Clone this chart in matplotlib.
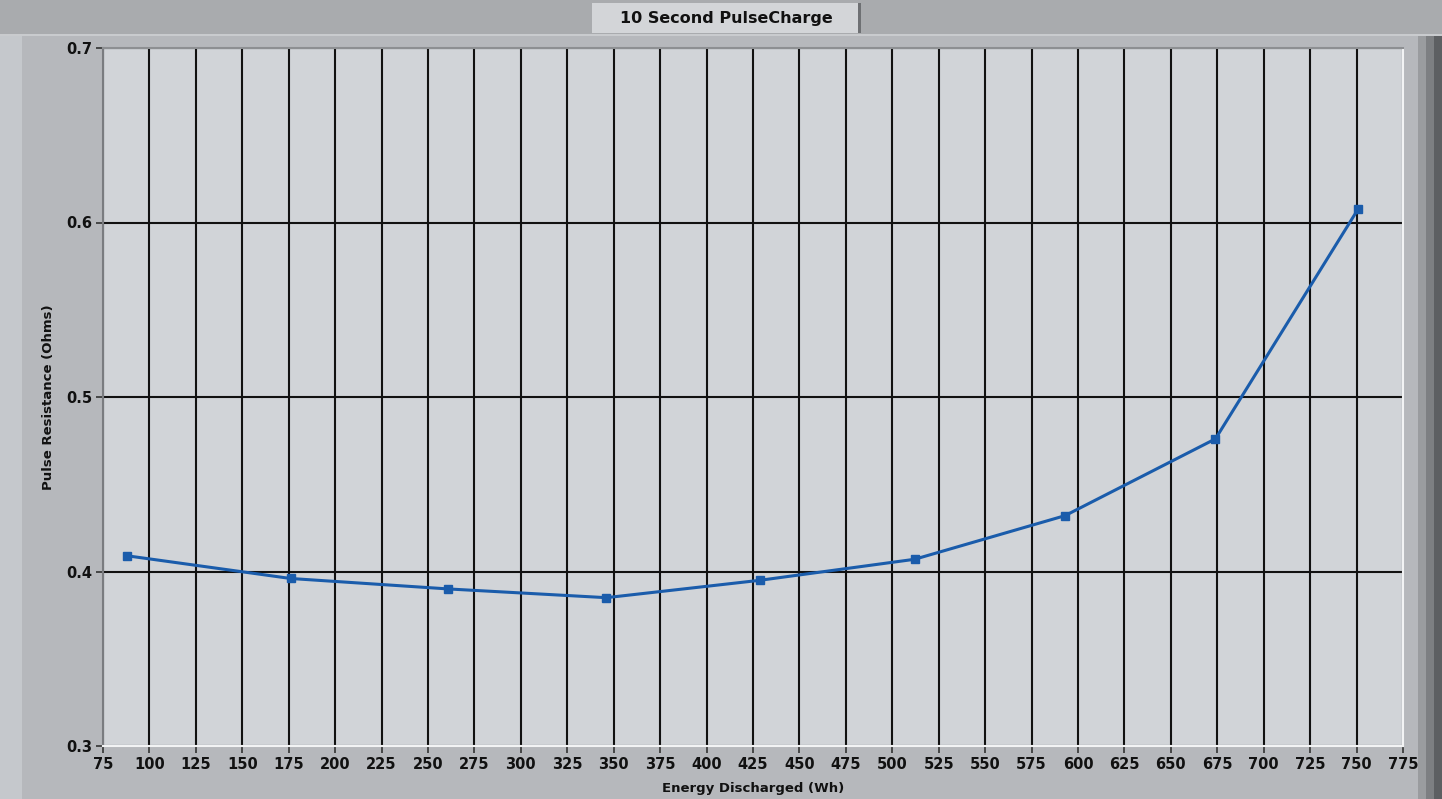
"""Recreate the '10 Second PulseCharge' LabVIEW-style resistance chart."""

import matplotlib
matplotlib.use("Agg")
import matplotlib.pyplot as plt
from matplotlib.patches import Rectangle

# Data.
energy_wh = [88, 176, 261, 346, 429, 512, 593, 674, 751]
resistance_ohm = [0.409, 0.396, 0.390, 0.385, 0.395, 0.407, 0.432, 0.476, 0.608]

x_ticks = list(range(75, 776, 25))
y_ticks = [0.3, 0.4, 0.5, 0.6, 0.7]

W, H = 1442, 799
PLOT_BG = "#d1d4d8"
FRAME_BG = "#b6b8bc"
LINE_BLUE = "#1a5cab"


def px(x0, y0, x1, y1):
    """Pixel box (top-left origin) -> figure-fraction rect."""
    return [x0 / W, 1 - y1 / H, (x1 - x0) / W, (y1 - y0) / H]


fig = plt.figure(figsize=(W / 100, H / 100), dpi=100)
fig.patch.set_facecolor(FRAME_BG)

# frame decoration: top band, left light strip, right bevel
deco = [
    ((0, 0, W, 34), "#a9abae"),
    ((0, 34, W, 36), "#c9cbce"),
    ((0, 36, 22, H), "#c5c8cc"),
    ((1418, 36, 1426, H), "#9a9c9f"),
    ((1426, 36, 1434, H), "#7d7f82"),
    ((1434, 36, W, H), "#5d5f62"),
]
for (x0, y0, x1, y1), c in deco:
    l, b, w, h = px(x0, y0, x1, y1)
    fig.patches.append(Rectangle((l, b), w, h, transform=fig.transFigure,
                                 facecolor=c, edgecolor="none", zorder=-5))

# title "button"
l, b, w, h = px(592, 3, 860, 33)
fig.patches.append(Rectangle((l, b), w, h, transform=fig.transFigure,
                             facecolor="#d3d5d8", edgecolor="none", zorder=-4))
l, b, w, h = px(858, 3, 861, 33)
fig.patches.append(Rectangle((l, b), w, h, transform=fig.transFigure,
                             facecolor="#6e7073", edgecolor="none", zorder=-3))
fig.text(726 / W, 1 - 18 / H, "10 Second PulseCharge", ha="center", va="center",
         fontsize=11.5, color="#111111", fontweight="bold")

ax = fig.add_axes(px(103, 48, 1403, 746))
ax.set_facecolor(PLOT_BG)

ax.plot(energy_wh, resistance_ohm, color=LINE_BLUE, lw=2.2, marker="s",
        markersize=5.5, markerfacecolor=LINE_BLUE, markeredgecolor=LINE_BLUE,
        zorder=5)

ax.set_xlim(75, 775)
ax.set_ylim(0.3, 0.7)
ax.set_xticks(x_ticks)
ax.set_yticks(y_ticks)
ax.set_yticklabels([f"{v:.1f}" for v in y_ticks])
ax.grid(True, color="#111111", lw=1.5, zorder=1)
ax.set_axisbelow(True)

ax.tick_params(axis="both", direction="out", length=5, width=1.2,
               color="#333333", labelsize=10.5, labelcolor="#111111", pad=3)
for lab in ax.get_xticklabels() + ax.get_yticklabels():
    lab.set_fontweight("bold")

ax.spines["left"].set_color("#7a7c80")
ax.spines["top"].set_color("#8d8f92")
ax.spines["bottom"].set_color("#f2f3f4")
ax.spines["right"].set_color("#f2f3f4")
for s in ax.spines.values():
    s.set_linewidth(1.5)

ax.set_xlabel("Energy Discharged (Wh)", fontsize=9.5, fontweight="bold",
              color="#111111", labelpad=7)
ax.set_ylabel("Pulse Resistance (Ohms)", fontsize=9.5, fontweight="bold",
              color="#111111", labelpad=8)

fig.savefig("out.png", dpi=100, facecolor=fig.get_facecolor())
